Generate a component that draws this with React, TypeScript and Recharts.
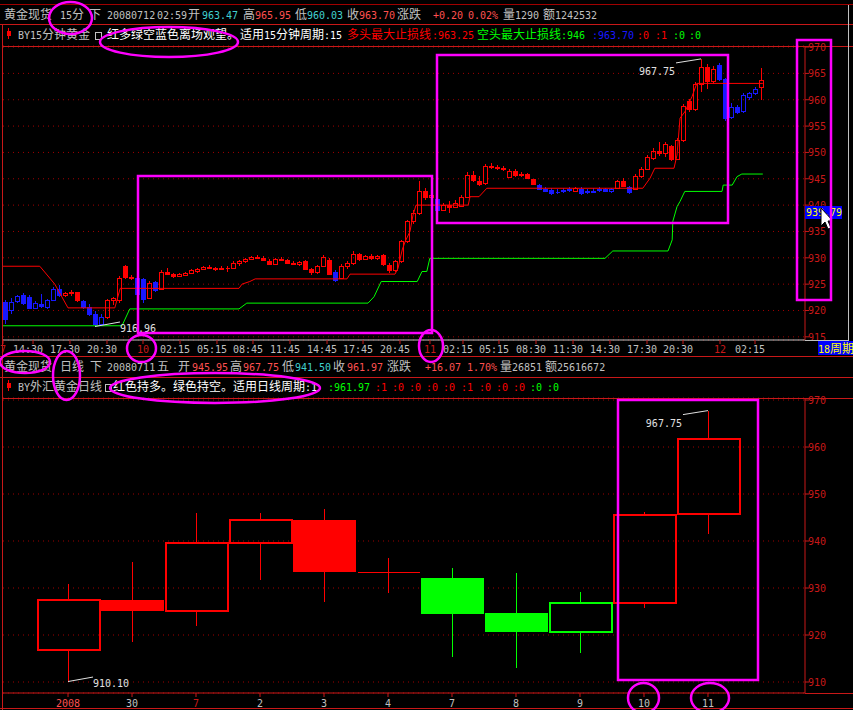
import React from 'react';
import { ComposedChart, Bar, Line, XAxis, YAxis, CartesianGrid, ReferenceDot } from 'recharts';

const MONO = '"DejaVu Sans Mono", "Liberation Mono", monospace';
const CJKF = '"Noto Sans CJK SC", sans-serif';
const GRAY = '#c0c0c0';
const WHITE = '#ffffff';
const RED = '#ff0000';
const SALMON = '#ff5050';
const CYAN = '#40d0d0';
const AXIS_RED = '#c81818';
const GRID = '#a00000';
const BLUE = '#1818ff';
const GREEN = '#00ff00';
const MAGENTA = '#ff00ff';
const YELLOW = '#ffff00';

// 15-minute gold candles (two bars per mark): open, high, low, close, signal (1 = hold long, 0 = stand aside)
const topCandles: number[][] = [
  [921.6, 921.9, 917.5, 918.4, 0], [920.0, 922.3, 919.4, 921.7, 0], [921.8, 923.0, 921.5, 922.7, 0],
  [922.9, 923.4, 921.0, 921.5, 0], [922.5, 923.0, 920.2, 920.5, 0], [920.5, 921.8, 920.2, 921.4, 0],
  [921.3, 923.1, 920.4, 920.8, 0], [920.6, 922.2, 920.3, 921.9, 0], [922.0, 924.4, 921.8, 924.0, 0],
  [924.0, 924.9, 922.6, 923.0, 0], [923.0, 923.5, 922.5, 923.3, 1], [923.3, 923.9, 922.8, 923.5, 1],
  [923.5, 923.6, 921.7, 921.9, 1], [921.8, 922.0, 920.3, 920.6, 0], [920.6, 921.2, 918.9, 919.3, 0],
  [919.3, 919.9, 916.96, 917.5, 0], [917.5, 919.3, 917.2, 918.8, 0], [918.8, 922.2, 918.4, 921.9, 1],
  [921.9, 922.6, 921.0, 922.3, 1], [922.0, 926.5, 921.4, 926.1, 1], [928.4, 928.7, 925.9, 926.3, 1],
  [926.3, 926.8, 925.8, 926.2, 1], [926.2, 926.5, 922.9, 923.2, 0], [925.9, 926.1, 921.5, 922.2, 0],
  [922.4, 925.6, 922.2, 925.3, 1], [925.4, 925.6, 923.6, 923.8, 0], [924.0, 927.6, 923.8, 927.3, 1],
  [927.3, 928.1, 926.8, 927.0, 1], [926.9, 927.2, 926.2, 926.5, 1], [926.5, 927.2, 926.3, 927.0, 1],
  [926.8, 927.3, 926.5, 927.1, 1], [927.1, 927.8, 926.9, 927.6, 1], [927.5, 928.0, 927.1, 927.8, 1],
  [927.8, 928.5, 927.6, 928.3, 1], [928.2, 928.6, 927.8, 928.0, 1], [928.0, 928.3, 927.5, 927.9, 1],
  [927.9, 928.4, 927.6, 928.1, 1], [928.1, 928.5, 927.4, 928.0, 1], [928.0, 929.3, 927.9, 929.1, 1],
  [929.1, 929.6, 928.4, 929.4, 1], [929.4, 930.0, 929.1, 929.8, 1], [929.8, 930.4, 929.5, 930.2, 1],
  [930.2, 930.6, 929.8, 930.0, 1], [930.0, 930.3, 929.4, 929.5, 1], [929.4, 929.7, 928.6, 928.8, 1],
  [928.8, 929.9, 928.6, 929.7, 1], [929.7, 930.2, 929.3, 929.5, 1], [929.5, 929.8, 928.8, 929.0, 1],
  [929.0, 929.3, 928.6, 928.9, 1], [928.9, 929.4, 928.5, 929.2, 1], [929.3, 929.6, 927.6, 927.8, 1],
  [927.8, 928.1, 926.8, 927.3, 1], [927.3, 928.6, 927.0, 928.4, 1], [928.4, 930.6, 928.2, 930.2, 1],
  [929.6, 930.0, 926.8, 927.0, 1], [927.4, 927.6, 925.5, 925.8, 0], [926.2, 928.9, 926.0, 928.5, 1],
  [928.4, 929.4, 927.9, 929.0, 1], [929.0, 931.3, 928.6, 930.8, 1], [930.7, 931.0, 929.4, 929.8, 1],
  [929.8, 930.6, 929.5, 930.3, 1], [930.3, 930.8, 929.6, 930.0, 1], [930.0, 930.6, 929.5, 930.4, 1],
  [930.6, 930.8, 928.5, 928.8, 1], [928.7, 929.0, 927.2, 927.6, 1], [927.6, 929.5, 927.3, 929.3, 1],
  [929.3, 933.4, 929.0, 933.1, 1], [933.1, 937.2, 932.8, 936.9, 1], [936.9, 939.0, 936.5, 938.5, 1],
  [938.5, 944.6, 938.2, 942.7, 1], [942.7, 943.2, 941.0, 941.5, 1], [941.5, 942.9, 940.8, 942.0, 1],
  [941.2, 941.4, 938.6, 939.0, 0], [939.0, 940.4, 938.8, 940.1, 1], [940.1, 940.8, 938.5, 939.6, 1],
  [939.6, 940.9, 939.4, 940.4, 1], [939.8, 941.9, 939.6, 941.6, 1], [941.6, 946.3, 941.3, 945.8, 1],
  [945.8, 946.4, 944.4, 944.8, 1], [944.6, 945.5, 943.6, 944.0, 1], [944.2, 947.8, 943.9, 947.5, 1],
  [947.5, 947.9, 946.8, 947.2, 1], [947.2, 947.6, 946.7, 947.0, 1], [947.0, 947.5, 946.5, 946.8, 1],
  [945.3, 946.8, 945.1, 946.5, 1], [946.5, 946.9, 945.4, 945.8, 1], [945.8, 946.2, 945.3, 945.9, 1],
  [945.9, 946.1, 944.9, 945.1, 1], [944.9, 945.0, 943.8, 944.1, 1], [943.9, 944.0, 942.8, 943.1, 0],
  [943.1, 943.4, 942.4, 942.7, 0], [942.8, 943.2, 942.0, 942.3, 0], [942.5, 943.1, 942.2, 942.4, 0],
  [942.6, 943.3, 942.3, 942.8, 0], [942.8, 943.4, 942.5, 943.0, 0], [942.7, 943.4, 942.5, 943.2, 1],
  [943.1, 943.5, 941.9, 942.3, 0], [942.4, 943.0, 942.1, 942.6, 0], [942.7, 943.2, 942.3, 942.5, 0],
  [942.8, 943.4, 942.5, 943.0, 0], [943.0, 943.3, 942.4, 942.6, 0], [942.7, 943.2, 942.3, 943.0, 0],
  [943.2, 944.8, 943.0, 944.5, 1], [944.5, 945.2, 943.4, 943.7, 1], [943.4, 943.6, 942.2, 942.5, 0],
  [943.0, 945.9, 942.8, 945.6, 1], [945.5, 947.2, 945.2, 946.9, 1], [946.9, 949.5, 946.6, 949.1, 1],
  [949.0, 950.8, 948.6, 950.2, 1], [950.2, 952.0, 949.4, 949.8, 1], [949.8, 952.0, 949.2, 951.6, 1],
  [951.2, 951.5, 948.4, 948.8, 1], [948.8, 952.7, 948.5, 952.3, 1], [952.3, 959.2, 952.0, 958.8, 1],
  [959.8, 960.2, 957.6, 958.2, 1], [958.2, 963.4, 957.8, 962.9, 1], [962.9, 967.75, 961.5, 966.2, 1],
  [966.3, 966.8, 962.0, 963.5, 1], [963.5, 966.4, 963.0, 965.8, 1], [966.6, 966.9, 963.6, 964.0, 0],
  [963.9, 964.2, 956.0, 956.6, 0], [956.8, 959.3, 956.4, 958.7, 0], [958.7, 959.0, 957.2, 957.6, 0],
  [957.8, 961.2, 957.5, 960.9, 0], [960.5, 961.5, 960.0, 961.2, 0], [961.2, 962.4, 960.9, 962.0, 0],
  [962.4, 965.95, 960.03, 963.70, 1],
];

// 多头最大止损线 / 空头最大止损线 breakpoints: [candle index, price]
const longStop: number[][] = [
  [-0.33, 928.4], [5.8, 928.4], [8.3, 925.0], [10.5, 920.5], [18.3, 920.5], [19.2, 924.2], [39, 924.2],
  [39.5, 925.0], [40.8, 925.5], [41.7, 926.0], [57, 926.0], [57.5, 926.9], [65, 926.9], [65.5, 928.0],
  [66.2, 931.5], [66.7, 933.1], [67.5, 935.0], [68, 938.1], [68.5, 940.0], [77.2, 940.0], [77.5, 941.6],
  [79, 941.6], [80.3, 943.2], [106.3, 943.2], [107.5, 945.1], [108.3, 947.0], [111.5, 947.0], [112, 949.5],
  [112.5, 956.5], [113.3, 957.7], [114.5, 960.6], [115.3, 963.1], [126.3, 963.1],
];
const shortStop: number[][] = [
  [-0.33, 917.1], [19.5, 917.1], [20.8, 920.3], [39, 920.3], [40.3, 921.4], [60.5, 921.4], [61.5, 922.6],
  [62.7, 925.5], [68.7, 925.5], [69.5, 927.4], [70.3, 927.4], [70.8, 929.9], [100, 929.9], [101.3, 931.3],
  [110.5, 931.3], [111.2, 933.4], [111.3, 936.9], [112, 939.7], [112.5, 940.7], [113.3, 942.6], [119.5, 942.6],
  [119.7, 943.8], [121.2, 943.8], [122, 945.4], [122.8, 945.9], [126.3, 945.9],
];

const topTickIdx = [-0.33, 4.67, 10.83, 17, 23, 29.17, 35.33, 41.33, 47.5, 53.67, 59.67, 65.83, 70.83,
  76.33, 82.33, 88.5, 94.67, 100.83, 107, 113, 119.17, 125];
const topTickLabels = ['7', '14:30', '17:30', '20:30', '10', '02:15', '05:15', '08:45', '11:45', '14:45',
  '17:45', '20:45', '11', '02:15', '05:15', '08:30', '11:30', '14:30', '17:30', '20:30', '12', '02:15'];
const topYTicks = [915, 920, 925, 930, 935, 940, 945, 950, 955, 960, 965, 970];

// daily candles
const dayLabels = ['2008', '30', '7', '2', '3', '4', '7', '8', '9', '10', '11'];
const dayOpen = [917.0, 927.4, 925.3, 939.7, 944.5, 933.5, 932.1, 924.6, 920.8, 927.0, 945.95];
const dayHigh = [930.9, 935.5, 946.0, 946.0, 946.8, 936.4, 934.2, 933.2, 929.1, 946.1, 967.75];
const dayLow = [910.1, 918.6, 922.0, 931.6, 927.1, 929.0, 915.4, 913.0, 916.2, 925.8, 941.5];
const dayClose = [927.6, 925.3, 939.7, 944.6, 933.6, 933.5, 924.7, 920.9, 927.0, 945.8, 961.97];
const daySignal = [1, 1, 1, 1, 1, 1, -1, -1, -1, 1, 1];
const dayYTicks = [910, 920, 930, 940, 950, 960, 970];

const topData = topCandles.map((c, i) => ({ i, o: c[0], h: c[1], l: c[2], c: c[3], s: c[4], range: [c[2], c[1]] }));
const longData = longStop.map(([i, v]) => ({ i, v }));
const shortData = shortStop.map(([i, v]) => ({ i, v }));
const dayData = dayLabels.map((_, i) => ({
  i, o: dayOpen[i], h: dayHigh[i], l: dayLow[i], c: dayClose[i], s: daySignal[i], range: [dayLow[i], dayHigh[i]],
}));

const isWide = (ch: string) => /[\u2E80-\u9FFF\u3000-\u303F\uFF00-\uFFEF]/.test(ch);
const splitRuns = (s: string) => {
  const out: { t: string; w: boolean }[] = [];
  for (const ch of s) {
    const w = isWide(ch);
    const last = out[out.length - 1];
    if (last && last.w === w) last.t += ch;
    else out.push({ t: ch, w });
  }
  return out;
};

const Txt = ({ x, y, fill, s }: any) => (
  <text x={x} y={y} fill={fill} style={{ whiteSpace: 'pre' }}>
    {splitRuns(s).map((r, k) => (
      <tspan key={k} fontFamily={r.w ? CJKF : MONO} fontSize={r.w ? 12 : 10}>{r.t}</tspan>
    ))}
  </text>
);

const Candle = (p: any) => {
  const { x, y, width, height, payload, bodyW, edge, colorOf } = p;
  if (!payload) return null;
  const top = Math.min(y, y + height);
  const bot = Math.max(y, y + height);
  const { o, h, l, c } = payload;
  const py = (v: number) => top + ((h - v) / (h - l)) * (bot - top);
  const cx = Math.round(x + width / 2) + 0.5;
  const color = colorOf(payload.s);
  const bTop = Math.round(Math.min(py(o), py(c)));
  const bBot = Math.round(Math.max(py(o), py(c)));
  const left = cx - bodyW / 2;
  return (
    <g shapeRendering="crispEdges">
      <line x1={cx} x2={cx} y1={top} y2={bTop} stroke={color} />
      <line x1={cx} x2={cx} y1={bBot} y2={bot} stroke={color} />
      {bBot - bTop < 1 ? (
        <line x1={left} x2={left + bodyW} y1={bTop + 0.5} y2={bTop + 0.5} stroke={color} />
      ) : c > o ? (
        <rect x={left} y={bTop + 0.5} width={bodyW} height={bBot - bTop} fill="none" stroke={color} strokeWidth={edge} />
      ) : (
        <rect x={left - 0.5} y={bTop} width={bodyW + 1} height={bBot - bTop + 1} fill={color} />
      )}
    </g>
  );
};

const HighMark = (label: string) => (p: any) => (
  <g>
    <line x1={p.cx} y1={p.cy} x2={p.cx - 25} y2={p.cy + 4} stroke="#e0e0e0" />
    <text x={p.cx - 26} y={p.cy + 16} textAnchor="end" fill="#e0e0e0" fontFamily={MONO} fontSize={10}>{label}</text>
  </g>
);
const LowMark = (label: string) => (p: any) => (
  <g>
    <line x1={p.cx} y1={p.cy} x2={p.cx + 25} y2={p.cy - 4.5} stroke="#e0e0e0" />
    <text x={p.cx + 25} y={p.cy + 5} fill="#e0e0e0" fontFamily={MONO} fontSize={10}>{label}</text>
  </g>
);

const RightTick = ({ x, y, payload }: any) => (
  <text x={x - 3} y={y + 4} fill={AXIS_RED} fontFamily={MONO} fontSize={10}>{payload.value}</text>
);

const TopTick = ({ x, y, payload }: any) => {
  const k = topTickIdx.indexOf(payload.value);
  const lab = topTickLabels[k] ?? '';
  const day = !lab.includes(':');
  return (
    <text x={x + (day ? 0 : -5)} y={y + 7} textAnchor="middle" fill={day ? AXIS_RED : GRAY} fontFamily={MONO} fontSize={10}>{lab}</text>
  );
};

const DayTick = ({ x, y, payload }: any) => {
  const k = payload.value as number;
  const fill = k === 0 ? SALMON : k === 2 ? AXIS_RED : GRAY;
  return (
    <text x={x} y={y + 8} textAnchor="middle" fill={fill} fontFamily={MONO} fontSize={10}>{dayLabels[k]}</text>
  );
};

const Icon = ({ x, y }: any) => (
  <g shapeRendering="crispEdges">
    <line x1={x + 1.5} x2={x + 1.5} y1={y} y2={y + 11} stroke={RED} />
    <rect x={x} y={y + 3} width={4} height={5} fill={RED} />
  </g>
);
const BoxIcon = ({ x, y }: any) => (
  <rect x={x + 0.5} y={y + 0.5} width={6} height={7} fill="none" stroke={GRAY} shapeRendering="crispEdges" />
);

const row1: [number, string, string][] = [
  [4, '黄金现货', GRAY], [60, '15分', GRAY], [89, '下', GRAY], [107, '20080712', GRAY], [157, '02:59', GRAY],
  [188, '开', GRAY], [202, '963.47', CYAN], [243, '高', GRAY], [255, '965.95', SALMON], [295, '低', GRAY],
  [307, '960.03', CYAN], [347, '收', GRAY], [359, '963.70', SALMON], [397, '涨跌', GRAY], [433, '+0.20', SALMON],
  [468, '0.02%', SALMON], [503, '量', GRAY], [515, '1290', GRAY], [543, '额', GRAY], [555, '1242532', GRAY],
];
const row2: [number, string, string][] = [
  [18, 'BY15分钟黄金', GRAY], [107, '红多绿空蓝色离场观望。', WHITE], [240, '适用15分钟周期:15', WHITE],
  [347, '多头最大止损线', RED], [432, ':963.25', RED], [477, '空头最大止损线:946', GREEN], [592, ':963.70', BLUE],
  [637, ':0', RED], [655, ':1', RED], [673, ':0', GREEN], [689, ':0', GREEN],
];
const row3: [number, string, string][] = [
  [4, '黄金现货', GRAY], [60, '日线', GRAY], [90, '下', GRAY], [107, '20080711', GRAY], [157, '五', GRAY],
  [178, '开', GRAY], [192, '945.95', SALMON], [230, '高', GRAY], [243, '967.75', SALMON], [282, '低', GRAY],
  [295, '941.50', CYAN], [333, '收', GRAY], [347, '961.97', SALMON], [387, '涨跌', GRAY], [425, '+16.07', SALMON],
  [467, '1.70%', SALMON], [500, '量', GRAY], [512, '26851', GRAY], [545, '额', GRAY], [557, '25616672', GRAY],
];
const row4: [number, string, string][] = [
  [18, 'BY外汇黄金日线', GRAY], [113, '红色持多。绿色持空。适用日线周期:1', WHITE], [328, ':961.97', GREEN],
  [375, ':1', RED], [392, ':0', RED], [409, ':0', RED], [426, ':0', RED], [443, ':0', RED], [461, ':1', RED],
  [479, ':0', RED], [496, ':0', RED], [513, ':0', RED], [530, ':0', GREEN], [547, ':0', GREEN],
];

export default function App() {
  const topColor = (s: number) => (s === 1 ? RED : BLUE);
  const dayColor = (s: number) => (s === 1 ? RED : GREEN);
  return (
    <div style={{ position: 'absolute', left: 0, top: 0, width: 853, height: 710, background: '#000', overflow: 'hidden' }}>
      {/* 15 minute panel */}
      <div style={{ position: 'absolute', left: 0, top: 41 }}>
        <ComposedChart width={853} height={315} data={topData} margin={{ top: 5, right: 0, bottom: 0, left: 3 }}>
          <CartesianGrid vertical={false} stroke={GRID} strokeDasharray="1 4" />
          <XAxis dataKey="i" type="number" domain={[-0.333, 133.333]} allowDataOverflow ticks={topTickIdx} interval={0}
            height={16} tickSize={4} tick={TopTick} axisLine={{ stroke: GRAY }} tickLine={{ stroke: AXIS_RED }} />
          <YAxis orientation="right" width={48} domain={[914.4, 970.2]} allowDataOverflow ticks={topYTicks} interval={0}
            tickSize={4} tick={RightTick} axisLine={{ stroke: AXIS_RED }} tickLine={{ stroke: AXIS_RED }} />
          <Line data={longData} dataKey="v" type="linear" stroke={RED} strokeWidth={1} dot={false} isAnimationActive={false} />
          <Line data={shortData} dataKey="v" type="linear" stroke={GREEN} strokeWidth={1} dot={false} isAnimationActive={false} />
          <Bar dataKey="range" barSize={4} isAnimationActive={false}
            shape={(p: any) => <Candle {...p} bodyW={4} edge={1} colorOf={topColor} />} />
          <ReferenceDot x={116} y={967.75} r={0} ifOverflow="visible" shape={HighMark('967.75')} />
          <ReferenceDot x={15} y={916.96} r={0} ifOverflow="visible" shape={LowMark('916.96')} />
        </ComposedChart>
      </div>

      {/* daily panel */}
      <div style={{ position: 'absolute', left: 0, top: 393 }}>
        <ComposedChart width={853} height={317} data={dayData} margin={{ top: 5, right: 0, bottom: 0, left: 3 }}>
          <CartesianGrid vertical={false} stroke={GRID} strokeDasharray="1 4" />
          <XAxis dataKey="i" type="number" domain={[-1.016, 11.516]} allowDataOverflow ticks={dayData.map((d) => d.i)} interval={0}
            height={17} tickSize={4} tick={DayTick} axisLine={{ stroke: AXIS_RED }} tickLine={{ stroke: AXIS_RED }} />
          <YAxis orientation="right" width={48} domain={[907.66, 970.43]} allowDataOverflow ticks={dayYTicks} interval={0}
            tickSize={4} tick={RightTick} axisLine={{ stroke: AXIS_RED }} tickLine={{ stroke: AXIS_RED }} />
          <Bar dataKey="range" barSize={62} isAnimationActive={false}
            shape={(p: any) => <Candle {...p} bodyW={62} edge={2} colorOf={dayColor} />} />
          <ReferenceDot x={10} y={967.75} r={0} ifOverflow="visible" shape={HighMark('967.75')} />
          <ReferenceDot x={0} y={910.1} r={0} ifOverflow="visible" shape={LowMark('910.10')} />
        </ComposedChart>
      </div>

      {/* frame, headers and hand-drawn marks */}
      <svg width={853} height={710} style={{ position: 'absolute', left: 0, top: 0, pointerEvents: 'none' }}>
        <g shapeRendering="crispEdges">
          <line x1={0} x2={853} y1={4.5} y2={4.5} stroke={GRID} />
          <line x1={0} x2={853} y1={24.5} y2={24.5} stroke={AXIS_RED} />
          <line x1={2} x2={853} y1={46.5} y2={46.5} stroke={AXIS_RED} />
          <line x1={2.5} x2={2.5} y1={24} y2={356} stroke={AXIS_RED} />
          <line x1={805} x2={848} y1={340.5} y2={340.5} stroke={GRAY} />
          <line x1={848.5} x2={848.5} y1={5} y2={341} stroke={GRAY} />
          <line x1={0} x2={853} y1={356.5} y2={356.5} stroke={AXIS_RED} />
          <line x1={0} x2={853} y1={377.5} y2={377.5} stroke={AXIS_RED} />
          <line x1={2} x2={853} y1={398.5} y2={398.5} stroke={AXIS_RED} />
          <line x1={2.5} x2={2.5} y1={356} y2={710} stroke={AXIS_RED} />
          <line x1={805} x2={853} y1={693.5} y2={693.5} stroke={AXIS_RED} />
          <line x1={0} x2={853} y1={708.5} y2={708.5} stroke={AXIS_RED} />
        </g>

        {row1.map(([x, s, f], k) => <Txt key={'a' + k} x={x} y={19} fill={f} s={s} />)}
        <Icon x={7} y={28} />
        <BoxIcon x={95} y={32} />
        {row2.map(([x, s, f], k) => <Txt key={'b' + k} x={x} y={39} fill={f} s={s} />)}
        {row3.map(([x, s, f], k) => <Txt key={'c' + k} x={x} y={371} fill={f} s={s} />)}
        <Icon x={7} y={380} />
        <BoxIcon x={105} y={384} />
        {row4.map(([x, s, f], k) => <Txt key={'d' + k} x={x} y={391} fill={f} s={s} />)}

        <rect x={818} y={341} width={35} height={14} fill="#0000ff" />
        <Txt x={818} y={353} fill={YELLOW} s="18周期" />

        <rect x={805} y={206} width={37} height={13} fill="#0000ff" />
        <Txt x={806} y={216} fill={YELLOW} s="939.79" />
        <polygon points="821,208 821,226 825,222 828,229 831,228 828,221 833,221" fill="#ffffff" stroke="#000" strokeWidth={1} />

        <g fill="none" stroke={MAGENTA} strokeWidth={2.5}>
          <ellipse cx={70.5} cy={18} rx={21.5} ry={16} />
          <ellipse cx={169} cy={42} rx={69} ry={15} />
          <rect x={138} y={176} width={294} height={157} />
          <rect x={437} y={55} width={291} height={168} />
          <rect x={797} y={40} width={34} height={260} />
          <ellipse cx={141.5} cy={348.5} rx={14.5} ry={13.5} />
          <ellipse cx={431} cy={346} rx={12} ry={16} />
          <ellipse cx={25} cy={362} rx={25} ry={11} />
          <ellipse cx={66.5} cy={375.5} rx={13.5} ry={24.5} />
          <ellipse cx={215} cy={388} rx={105} ry={15} />
          <rect x={618} y={400} width={140} height={280} />
          <ellipse cx={643.5} cy={698} rx={15.5} ry={15} />
          <ellipse cx={710} cy={698} rx={19} ry={15} />
        </g>
      </svg>
    </div>
  );
}
